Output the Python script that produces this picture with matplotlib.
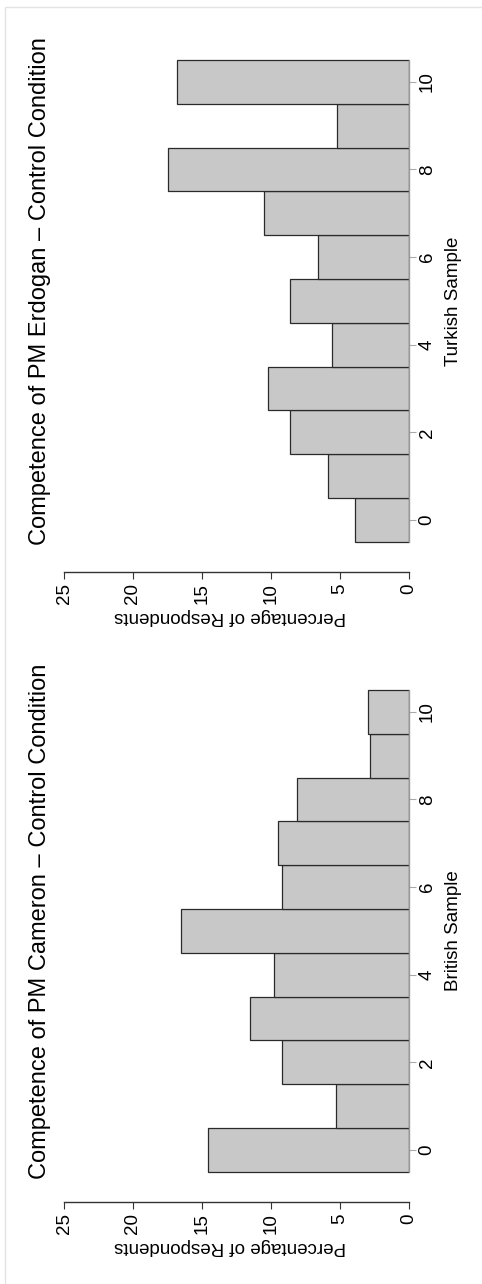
import numpy as np
import matplotlib
matplotlib.use("Agg")
import matplotlib.pyplot as plt
from matplotlib.patches import Rectangle

plt.rcParams['font.family'] = ['Liberation Sans', 'DejaVu Sans']

# competence score 0..10, percentage of respondents
scores = list(range(11))
british = [14.6, 5.3, 9.2, 11.5, 9.8, 16.5, 9.2, 9.5, 8.1, 2.8, 3.0]
turkish = [3.9, 5.9, 8.6, 10.2, 5.6, 8.6, 6.6, 10.5, 17.5, 5.2, 16.8]
score_ticks = [0, 2, 4, 6, 8, 10]
pct_ticks = [0, 5, 10, 15, 20, 25]

panels = [
    ("Competence of PM Erdogan \u2013 Control Condition", "Turkish Sample", turkish, 0),
    ("Competence of PM Cameron \u2013 Control Condition", "British Sample", british, 630),
]

W, H = 482, 1284
fig = plt.figure(figsize=(W / 100, H / 100), dpi=100)

# light outer frame
fig.patches.append(Rectangle((5 / W, -0.01), 1.0, 1 - 7 / H + 0.01, transform=fig.transFigure,
                             fill=False, edgecolor='#e4e4e4', linewidth=1.0))


def px(x, y):
    return x / W, 1 - y / H


for title, xlabel, vals, off in panels:
    left, right = 64, 409
    bottom, top = 572 + off, 25 + off
    ax = fig.add_axes([left / W, 1 - bottom / H, (right - left) / W, (bottom - top) / H])
    ax.barh(scores, vals, height=1.0, color='#c8c8c8', edgecolor='#2a2a2a', linewidth=0.9)

    ax.set_xlim(25, 0)
    ax.set_ylim(-1.19, -1.19 + (bottom - top) / 43.8)

    for s in ['top', 'left']:
        ax.spines[s].set_visible(False)
    ax.spines['bottom'].set_bounds(0, 25)
    ax.spines['bottom'].set_color('#333333')
    ax.spines['bottom'].set_linewidth(1.0)
    ax.spines['right'].set_bounds(-0.5, 10.5)
    ax.spines['right'].set_color('#999999')
    ax.spines['right'].set_linewidth(1.0)

    ax.yaxis.tick_right()
    ax.set_yticks(score_ticks)
    ax.set_yticklabels([str(t) for t in score_ticks], rotation=90, va='center', ha='left')
    ax.tick_params(axis='y', length=5, width=0.8, color='#aaaaaa', labelsize=13.5, pad=2)

    ax.set_xticks(pct_ticks)
    ax.set_xticklabels([str(t) for t in pct_ticks], rotation=90, va='top', ha='center')
    ax.tick_params(axis='x', length=5, width=0.8, color='#333333', labelsize=13.5, pad=3)

    cy = (60 + 542) / 2 + off
    fig.text(*px(453, cy), xlabel, rotation=90, ha='center', va='center', fontsize=13.5)
    fig.text(*px(230, 617 + off), "Percentage of Respondents", rotation=180,
             ha='center', va='center', fontsize=13.5)
    fig.text(*px(40, cy - 10), title, rotation=90, ha='center', va='center', fontsize=17)

fig.savefig("out.png", dpi=100)
